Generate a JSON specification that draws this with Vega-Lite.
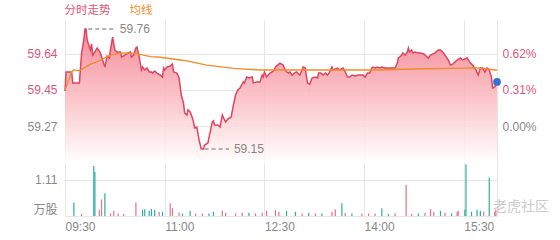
{
  "$schema": "https://vega.github.io/schema/vega-lite/v6.json",
  "width": 432,
  "height": 196,
  "autosize": {"type": "none"},
  "padding": {"left": 65, "top": 20, "right": 63, "bottom": 24},
  "background": "#ffffff",
  "config": {
    "font": "Liberation Sans, Noto Sans CJK SC",
    "view": {"stroke": null},
    "axis": {"ticks": false, "labelFontSize": 12, "gridColor": "#e6e6e6", "domainColor": "#e6e6e6"}
  },
  "datasets": {
    "price": [
      {"time": "2024-01-02T09:30", "price": 59.449}, {"time": "2024-01-02T09:31", "price": 59.546},
      {"time": "2024-01-02T09:36", "price": 59.546}, {"time": "2024-01-02T09:37", "price": 59.49},
      {"time": "2024-01-02T09:43", "price": 59.49}, {"time": "2024-01-02T09:45", "price": 59.643},
      {"time": "2024-01-02T09:47", "price": 59.709}, {"time": "2024-01-02T09:48", "price": 59.765},
      {"time": "2024-01-02T09:49", "price": 59.765}, {"time": "2024-01-02T09:50", "price": 59.709},
      {"time": "2024-01-02T09:53", "price": 59.658}, {"time": "2024-01-02T09:54", "price": 59.688},
      {"time": "2024-01-02T09:55", "price": 59.632}, {"time": "2024-01-02T09:57", "price": 59.648},
      {"time": "2024-01-02T09:59", "price": 59.668}, {"time": "2024-01-02T10:01", "price": 59.653},
      {"time": "2024-01-02T10:02", "price": 59.643}, {"time": "2024-01-02T10:04", "price": 59.607},
      {"time": "2024-01-02T10:06", "price": 59.571}, {"time": "2024-01-02T10:08", "price": 59.627},
      {"time": "2024-01-02T10:10", "price": 59.617}, {"time": "2024-01-02T10:11", "price": 59.658},
      {"time": "2024-01-02T10:13", "price": 59.724}, {"time": "2024-01-02T10:15", "price": 59.658},
      {"time": "2024-01-02T10:17", "price": 59.648}, {"time": "2024-01-02T10:20", "price": 59.648},
      {"time": "2024-01-02T10:21", "price": 59.622}, {"time": "2024-01-02T10:24", "price": 59.632},
      {"time": "2024-01-02T10:27", "price": 59.643}, {"time": "2024-01-02T10:29", "price": 59.648},
      {"time": "2024-01-02T10:30", "price": 59.622}, {"time": "2024-01-02T10:32", "price": 59.632},
      {"time": "2024-01-02T10:34", "price": 59.668}, {"time": "2024-01-02T10:35", "price": 59.673},
      {"time": "2024-01-02T10:37", "price": 59.622}, {"time": "2024-01-02T10:39", "price": 59.556},
      {"time": "2024-01-02T10:40", "price": 59.571}, {"time": "2024-01-02T10:42", "price": 59.556},
      {"time": "2024-01-02T10:44", "price": 59.566}, {"time": "2024-01-02T10:46", "price": 59.546},
      {"time": "2024-01-02T10:48", "price": 59.546}, {"time": "2024-01-02T10:49", "price": 59.54},
      {"time": "2024-01-02T10:51", "price": 59.551}, {"time": "2024-01-02T10:53", "price": 59.54},
      {"time": "2024-01-02T10:56", "price": 59.53}, {"time": "2024-01-02T10:58", "price": 59.52},
      {"time": "2024-01-02T10:59", "price": 59.566}, {"time": "2024-01-02T11:00", "price": 59.556},
      {"time": "2024-01-02T11:02", "price": 59.571}, {"time": "2024-01-02T11:05", "price": 59.576},
      {"time": "2024-01-02T11:07", "price": 59.586}, {"time": "2024-01-02T11:08", "price": 59.546},
      {"time": "2024-01-02T11:11", "price": 59.54}, {"time": "2024-01-02T11:13", "price": 59.515},
      {"time": "2024-01-02T11:15", "price": 59.428}, {"time": "2024-01-02T11:17", "price": 59.387},
      {"time": "2024-01-02T11:18", "price": 59.336}, {"time": "2024-01-02T11:20", "price": 59.326},
      {"time": "2024-01-02T11:21", "price": 59.352}, {"time": "2024-01-02T11:23", "price": 59.342},
      {"time": "2024-01-02T11:25", "price": 59.311}, {"time": "2024-01-02T11:26", "price": 59.291},
      {"time": "2024-01-02T11:27", "price": 59.26}, {"time": "2024-01-02T11:29", "price": 59.265},
      {"time": "2024-01-02T11:31", "price": 59.199}, {"time": "2024-01-02T11:33", "price": 59.153},
      {"time": "2024-01-02T11:35", "price": 59.153}, {"time": "2024-01-02T11:36", "price": 59.173},
      {"time": "2024-01-02T11:39", "price": 59.183}, {"time": "2024-01-02T11:41", "price": 59.239},
      {"time": "2024-01-02T11:43", "price": 59.291}, {"time": "2024-01-02T11:44", "price": 59.296},
      {"time": "2024-01-02T11:45", "price": 59.275}, {"time": "2024-01-02T11:48", "price": 59.275},
      {"time": "2024-01-02T11:50", "price": 59.265}, {"time": "2024-01-02T11:52", "price": 59.326},
      {"time": "2024-01-02T11:54", "price": 59.301}, {"time": "2024-01-02T11:55", "price": 59.291},
      {"time": "2024-01-02T11:57", "price": 59.306}, {"time": "2024-01-02T12:00", "price": 59.316},
      {"time": "2024-01-02T12:02", "price": 59.377}, {"time": "2024-01-02T12:03", "price": 59.403},
      {"time": "2024-01-02T12:04", "price": 59.428}, {"time": "2024-01-02T12:06", "price": 59.454},
      {"time": "2024-01-02T12:08", "price": 59.464}, {"time": "2024-01-02T12:11", "price": 59.495},
      {"time": "2024-01-02T12:12", "price": 59.49}, {"time": "2024-01-02T12:14", "price": 59.52},
      {"time": "2024-01-02T12:16", "price": 59.515}, {"time": "2024-01-02T12:19", "price": 59.52},
      {"time": "2024-01-02T12:20", "price": 59.49}, {"time": "2024-01-02T12:23", "price": 59.495},
      {"time": "2024-01-02T12:26", "price": 59.495}, {"time": "2024-01-02T12:28", "price": 59.53},
      {"time": "2024-01-02T12:29", "price": 59.52}, {"time": "2024-01-02T12:30", "price": 59.546},
      {"time": "2024-01-02T12:32", "price": 59.52}, {"time": "2024-01-02T12:35", "price": 59.54},
      {"time": "2024-01-02T12:37", "price": 59.546}, {"time": "2024-01-02T12:39", "price": 59.556},
      {"time": "2024-01-02T12:40", "price": 59.571}, {"time": "2024-01-02T12:42", "price": 59.581},
      {"time": "2024-01-02T12:44", "price": 59.591}, {"time": "2024-01-02T12:47", "price": 59.581},
      {"time": "2024-01-02T12:48", "price": 59.566}, {"time": "2024-01-02T12:50", "price": 59.546},
      {"time": "2024-01-02T12:52", "price": 59.54}, {"time": "2024-01-02T12:53", "price": 59.546},
      {"time": "2024-01-02T12:55", "price": 59.53}, {"time": "2024-01-02T12:57", "price": 59.54},
      {"time": "2024-01-02T12:59", "price": 59.546}, {"time": "2024-01-02T13:00", "price": 59.54},
      {"time": "2024-01-02T13:02", "price": 59.53}, {"time": "2024-01-02T13:04", "price": 59.556},
      {"time": "2024-01-02T13:05", "price": 59.571}, {"time": "2024-01-02T13:07", "price": 59.566},
      {"time": "2024-01-02T13:08", "price": 59.52}, {"time": "2024-01-02T13:09", "price": 59.49},
      {"time": "2024-01-02T13:11", "price": 59.484}, {"time": "2024-01-02T13:13", "price": 59.515},
      {"time": "2024-01-02T13:16", "price": 59.52}, {"time": "2024-01-02T13:18", "price": 59.515},
      {"time": "2024-01-02T13:19", "price": 59.54}, {"time": "2024-01-02T13:21", "price": 59.54},
      {"time": "2024-01-02T13:23", "price": 59.53}, {"time": "2024-01-02T13:25", "price": 59.54},
      {"time": "2024-01-02T13:27", "price": 59.53}, {"time": "2024-01-02T13:29", "price": 59.546},
      {"time": "2024-01-02T13:31", "price": 59.571}, {"time": "2024-01-02T13:32", "price": 59.556},
      {"time": "2024-01-02T13:36", "price": 59.566}, {"time": "2024-01-02T13:38", "price": 59.556},
      {"time": "2024-01-02T13:41", "price": 59.566}, {"time": "2024-01-02T13:43", "price": 59.546},
      {"time": "2024-01-02T13:45", "price": 59.52}, {"time": "2024-01-02T13:47", "price": 59.52},
      {"time": "2024-01-02T13:49", "price": 59.53}, {"time": "2024-01-02T13:52", "price": 59.525},
      {"time": "2024-01-02T13:55", "price": 59.53}, {"time": "2024-01-02T13:57", "price": 59.53},
      {"time": "2024-01-02T13:59", "price": 59.53}, {"time": "2024-01-02T14:01", "price": 59.52},
      {"time": "2024-01-02T14:03", "price": 59.54}, {"time": "2024-01-02T14:05", "price": 59.54},
      {"time": "2024-01-02T14:07", "price": 59.566}, {"time": "2024-01-02T14:08", "price": 59.571},
      {"time": "2024-01-02T14:10", "price": 59.566}, {"time": "2024-01-02T14:12", "price": 59.571},
      {"time": "2024-01-02T14:14", "price": 59.566}, {"time": "2024-01-02T14:16", "price": 59.571},
      {"time": "2024-01-02T14:19", "price": 59.566}, {"time": "2024-01-02T14:22", "price": 59.566},
      {"time": "2024-01-02T14:25", "price": 59.566}, {"time": "2024-01-02T14:28", "price": 59.566},
      {"time": "2024-01-02T14:30", "price": 59.591}, {"time": "2024-01-02T14:31", "price": 59.617},
      {"time": "2024-01-02T14:32", "price": 59.622}, {"time": "2024-01-02T14:34", "price": 59.632},
      {"time": "2024-01-02T14:35", "price": 59.643}, {"time": "2024-01-02T14:37", "price": 59.632},
      {"time": "2024-01-02T14:39", "price": 59.648}, {"time": "2024-01-02T14:40", "price": 59.668},
      {"time": "2024-01-02T14:41", "price": 59.648}, {"time": "2024-01-02T14:43", "price": 59.658},
      {"time": "2024-01-02T14:44", "price": 59.643}, {"time": "2024-01-02T14:46", "price": 59.648},
      {"time": "2024-01-02T14:49", "price": 59.643}, {"time": "2024-01-02T14:51", "price": 59.643},
      {"time": "2024-01-02T14:54", "price": 59.638}, {"time": "2024-01-02T14:58", "price": 59.617},
      {"time": "2024-01-02T15:00", "price": 59.632}, {"time": "2024-01-02T15:04", "price": 59.643},
      {"time": "2024-01-02T15:07", "price": 59.658}, {"time": "2024-01-02T15:09", "price": 59.658},
      {"time": "2024-01-02T15:11", "price": 59.648}, {"time": "2024-01-02T15:13", "price": 59.632},
      {"time": "2024-01-02T15:16", "price": 59.607}, {"time": "2024-01-02T15:18", "price": 59.581},
      {"time": "2024-01-02T15:20", "price": 59.586}, {"time": "2024-01-02T15:24", "price": 59.607},
      {"time": "2024-01-02T15:27", "price": 59.617}, {"time": "2024-01-02T15:29", "price": 59.607},
      {"time": "2024-01-02T15:33", "price": 59.617}, {"time": "2024-01-02T15:36", "price": 59.591},
      {"time": "2024-01-02T15:38", "price": 59.581}, {"time": "2024-01-02T15:41", "price": 59.556},
      {"time": "2024-01-02T15:43", "price": 59.53}, {"time": "2024-01-02T15:45", "price": 59.566},
      {"time": "2024-01-02T15:47", "price": 59.566}, {"time": "2024-01-02T15:49", "price": 59.546},
      {"time": "2024-01-02T15:51", "price": 59.566}, {"time": "2024-01-02T15:53", "price": 59.556},
      {"time": "2024-01-02T15:55", "price": 59.52}, {"time": "2024-01-02T15:56", "price": 59.464},
      {"time": "2024-01-02T15:58", "price": 59.469}, {"time": "2024-01-02T16:00", "price": 59.495}
    ],
    "avg": [
      {"time": "2024-01-02T09:30", "price": 59.454}, {"time": "2024-01-02T09:36", "price": 59.546},
      {"time": "2024-01-02T09:38", "price": 59.556}, {"time": "2024-01-02T09:43", "price": 59.552},
      {"time": "2024-01-02T09:53", "price": 59.586}, {"time": "2024-01-02T09:59", "price": 59.598},
      {"time": "2024-01-02T10:11", "price": 59.632}, {"time": "2024-01-02T10:20", "price": 59.643},
      {"time": "2024-01-02T10:35", "price": 59.641}, {"time": "2024-01-02T10:38", "price": 59.636},
      {"time": "2024-01-02T10:47", "price": 59.624}, {"time": "2024-01-02T10:56", "price": 59.621},
      {"time": "2024-01-02T11:14", "price": 59.607}, {"time": "2024-01-02T11:20", "price": 59.602},
      {"time": "2024-01-02T11:38", "price": 59.581}, {"time": "2024-01-02T12:02", "price": 59.564},
      {"time": "2024-01-02T12:26", "price": 59.556}, {"time": "2024-01-02T13:02", "price": 59.556},
      {"time": "2024-01-02T14:14", "price": 59.556}, {"time": "2024-01-02T14:44", "price": 59.561},
      {"time": "2024-01-02T15:45", "price": 59.567}, {"time": "2024-01-02T15:58", "price": 59.556},
      {"time": "2024-01-02T16:00", "price": 59.556}
    ],
    "marks": [
      {"time": "2024-01-02T09:51", "time_end": "2024-01-02T10:15", "price": 59.765, "label": "59.76"},
      {"time": "2024-01-02T11:36", "time_end": "2024-01-02T11:58", "price": 59.153, "label": "59.15"}
    ],
    "last": [{"time": "2024-01-02T16:00", "price": 59.495}],
    "wm": [{"time": "2024-01-02T16:00", "vol": 0.28, "label": "老虎社区"}],
    "vol": [
      {"time": "2024-01-02T09:38", "vol": 0.42, "dir": "down"}, {"time": "2024-01-02T09:45", "vol": 0.06, "dir": "up"},
      {"time": "2024-01-02T09:56", "vol": 1.54, "dir": "down"}, {"time": "2024-01-02T09:57", "vol": 1.36, "dir": "down"},
      {"time": "2024-01-02T10:01", "vol": 0.19, "dir": "up"}, {"time": "2024-01-02T10:03", "vol": 0.51, "dir": "up"},
      {"time": "2024-01-02T10:06", "vol": 0.7, "dir": "down"}, {"time": "2024-01-02T10:11", "vol": 0.08, "dir": "up"},
      {"time": "2024-01-02T10:14", "vol": 0.16, "dir": "up"}, {"time": "2024-01-02T10:18", "vol": 0.08, "dir": "up"},
      {"time": "2024-01-02T10:23", "vol": 0.06, "dir": "up"}, {"time": "2024-01-02T10:34", "vol": 0.42, "dir": "up"},
      {"time": "2024-01-02T10:40", "vol": 0.19, "dir": "down"}, {"time": "2024-01-02T10:42", "vol": 0.21, "dir": "down"},
      {"time": "2024-01-02T10:46", "vol": 0.16, "dir": "down"}, {"time": "2024-01-02T10:48", "vol": 0.22, "dir": "down"},
      {"time": "2024-01-02T10:51", "vol": 0.19, "dir": "down"}, {"time": "2024-01-02T10:55", "vol": 0.13, "dir": "up"},
      {"time": "2024-01-02T10:58", "vol": 0.13, "dir": "down"}, {"time": "2024-01-02T11:05", "vol": 0.39, "dir": "up"},
      {"time": "2024-01-02T11:07", "vol": 0.24, "dir": "up"}, {"time": "2024-01-02T11:13", "vol": 0.11, "dir": "up"},
      {"time": "2024-01-02T11:16", "vol": 0.08, "dir": "down"}, {"time": "2024-01-02T11:23", "vol": 0.16, "dir": "down"},
      {"time": "2024-01-02T11:28", "vol": 0.08, "dir": "up"}, {"time": "2024-01-02T11:34", "vol": 0.08, "dir": "up"},
      {"time": "2024-01-02T11:40", "vol": 0.08, "dir": "down"}, {"time": "2024-01-02T11:44", "vol": 0.13, "dir": "down"},
      {"time": "2024-01-02T11:52", "vol": 0.16, "dir": "up"}, {"time": "2024-01-02T11:55", "vol": 0.1, "dir": "up"},
      {"time": "2024-01-02T12:04", "vol": 0.08, "dir": "up"}, {"time": "2024-01-02T12:10", "vol": 0.1, "dir": "up"},
      {"time": "2024-01-02T12:16", "vol": 0.1, "dir": "down"}, {"time": "2024-01-02T12:22", "vol": 0.08, "dir": "up"},
      {"time": "2024-01-02T12:28", "vol": 0.1, "dir": "up"}, {"time": "2024-01-02T12:32", "vol": 0.16, "dir": "up"},
      {"time": "2024-01-02T12:40", "vol": 0.19, "dir": "up"}, {"time": "2024-01-02T12:43", "vol": 0.13, "dir": "up"},
      {"time": "2024-01-02T12:50", "vol": 0.16, "dir": "down"}, {"time": "2024-01-02T12:58", "vol": 0.13, "dir": "down"},
      {"time": "2024-01-02T13:04", "vol": 0.08, "dir": "up"}, {"time": "2024-01-02T13:10", "vol": 0.1, "dir": "down"},
      {"time": "2024-01-02T13:16", "vol": 0.08, "dir": "up"}, {"time": "2024-01-02T13:22", "vol": 0.08, "dir": "down"},
      {"time": "2024-01-02T13:31", "vol": 0.13, "dir": "up"}, {"time": "2024-01-02T13:34", "vol": 0.21, "dir": "up"},
      {"time": "2024-01-02T13:40", "vol": 0.39, "dir": "down"}, {"time": "2024-01-02T13:43", "vol": 0.1, "dir": "up"},
      {"time": "2024-01-02T13:49", "vol": 0.08, "dir": "down"}, {"time": "2024-01-02T13:58", "vol": 0.08, "dir": "up"},
      {"time": "2024-01-02T14:04", "vol": 0.08, "dir": "up"}, {"time": "2024-01-02T14:10", "vol": 0.08, "dir": "up"},
      {"time": "2024-01-02T14:16", "vol": 0.24, "dir": "down"}, {"time": "2024-01-02T14:22", "vol": 0.06, "dir": "down"},
      {"time": "2024-01-02T14:28", "vol": 0.08, "dir": "up"}, {"time": "2024-01-02T14:38", "vol": 0.96, "dir": "up"},
      {"time": "2024-01-02T14:43", "vol": 0.06, "dir": "up"}, {"time": "2024-01-02T14:49", "vol": 0.08, "dir": "down"},
      {"time": "2024-01-02T14:55", "vol": 0.1, "dir": "up"}, {"time": "2024-01-02T15:00", "vol": 0.21, "dir": "up"},
      {"time": "2024-01-02T15:03", "vol": 0.13, "dir": "up"}, {"time": "2024-01-02T15:09", "vol": 0.16, "dir": "down"},
      {"time": "2024-01-02T15:13", "vol": 0.1, "dir": "up"}, {"time": "2024-01-02T15:19", "vol": 0.08, "dir": "down"},
      {"time": "2024-01-02T15:24", "vol": 0.13, "dir": "up"}, {"time": "2024-01-02T15:25", "vol": 0.16, "dir": "up"},
      {"time": "2024-01-02T15:31", "vol": 0.19, "dir": "down"}, {"time": "2024-01-02T15:32", "vol": 1.59, "dir": "down"},
      {"time": "2024-01-02T15:37", "vol": 0.13, "dir": "down"}, {"time": "2024-01-02T15:42", "vol": 0.19, "dir": "down"},
      {"time": "2024-01-02T15:45", "vol": 0.16, "dir": "down"}, {"time": "2024-01-02T15:48", "vol": 0.13, "dir": "up"},
      {"time": "2024-01-02T15:53", "vol": 1.19, "dir": "down"}, {"time": "2024-01-02T15:58", "vol": 0.13, "dir": "up"},
      {"time": "2024-01-02T15:59", "vol": 0.19, "dir": "up"}
    ]
  },
  "encoding": {
    "x": {
      "field": "time", "type": "temporal", "title": null,
      "scale": {"domain": [
        {"year": 2024, "month": 1, "date": 2, "hours": 9, "minutes": 30},
        {"year": 2024, "month": 1, "date": 2, "hours": 16, "minutes": 0}
      ]},
      "axis": {
        "values": [
          {"year": 2024, "month": 1, "date": 2, "hours": 9, "minutes": 30},
          {"year": 2024, "month": 1, "date": 2, "hours": 11, "minutes": 0},
          {"year": 2024, "month": 1, "date": 2, "hours": 12, "minutes": 30},
          {"year": 2024, "month": 1, "date": 2, "hours": 14, "minutes": 0},
          {"year": 2024, "month": 1, "date": 2, "hours": 15, "minutes": 30}
        ],
        "format": "%H:%M", "labelAlign": "left", "labelFlush": false, "labelColor": "#888888",
        "labelPadding": 5, "grid": true, "domain": true, "ticks": false, "title": null
      }
    }
  },
  "layer": [
    {
      "layer": [
        {
          "data": {"name": "price"},
          "mark": {"type": "area", "opacity": 0.88, "color": {"gradient": "linear", "x1": 0, "y1": 0, "x2": 0, "y2": 1, "stops": [
            {"offset": 0, "color": "#f2788a"},
            {"offset": 0.23, "color": "#f699a4"},
            {"offset": 0.53, "color": "#fbbfc5"},
            {"offset": 0.72, "color": "#fdd9dc"},
            {"offset": 0.9, "color": "#fff1f2"},
            {"offset": 1, "color": "#ffffff"}
          ]}},
          "encoding": {
            "y": {"field": "price", "type": "quantitative", "title": null,
              "scale": {"domain": [58.811, 59.811], "nice": false, "zero": false},
              "axis": {"orient": "left", "values": [59.27, 59.454, 59.638], "format": ".2f", "title": null,
                "labelColor": {"condition": {"test": "datum.value > 59.3", "value": "#d9587a"}, "value": "#888888"},
                "grid": true, "domain": true, "ticks": false, "labelPadding": 8}},
            "y2": {"datum": 59.08}
          }
        },
        {
          "data": {"name": "price"},
          "mark": {"type": "line", "strokeWidth": 1.5},
          "encoding": {
            "y": {"field": "price", "type": "quantitative", "title": null},
            "color": {"datum": "分时走势", "scale": {"domain": ["分时走势", "均线"], "range": ["#e0445f", "#f08c28"]},
              "legend": {"orient": "top", "direction": "horizontal", "title": null, "symbolSize": 0, "symbolStrokeWidth": 0,
                "symbolOpacity": 0, "labelOffset": -12, "columnPadding": 18, "padding": 0, "offset": 3,
                "labelFont": "Noto Sans CJK SC", "labelFontSize": 11.5,
                "encode": {"labels": {"update": {"fill": {"signal": "datum.value === '均线' ? '#ef8f2e' : '#de5470'"}}}}}}
          }
        },
        {
          "data": {"name": "avg"},
          "mark": {"type": "line", "strokeWidth": 1.3},
          "encoding": {
            "y": {"field": "price", "type": "quantitative", "title": null},
            "color": {"datum": "均线"}
          }
        },
        {
          "data": {"name": "marks"},
          "mark": {"type": "rule", "strokeDash": [4, 3], "color": "#999999", "strokeWidth": 1.5},
          "encoding": {
            "x2": {"field": "time_end"},
            "y": {"field": "price", "type": "quantitative", "title": null}
          }
        },
        {
          "data": {"name": "marks"},
          "mark": {"type": "text", "align": "left", "baseline": "middle", "dx": 5, "fontSize": 12, "color": "#888888"},
          "encoding": {
            "x": {"field": "time_end", "type": "temporal", "title": null},
            "y": {"field": "price", "type": "quantitative", "title": null},
            "text": {"field": "label"}
          }
        },
        {
          "data": {"name": "last"},
          "mark": {"type": "circle", "size": 60, "color": "#3b6fd6", "opacity": 1},
          "encoding": {"y": {"field": "price", "type": "quantitative", "title": null}}
        }
      ]
    },
    {
      "data": {"name": "last"},
      "mark": {"type": "point", "opacity": 0},
      "encoding": {
        "y": {"field": "price", "type": "quantitative", "title": null,
          "scale": {"domain": [58.811, 59.811], "nice": false, "zero": false},
          "axis": {"orient": "right", "values": [59.27, 59.454, 59.638], "title": null,
            "labelExpr": "format((datum.value - 59.27) / 59.27 * 100, '.2f') + '%'",
            "labelColor": {"condition": {"test": "datum.value > 59.3", "value": "#d9587a"}, "value": "#888888"},
            "grid": false, "domain": true, "ticks": false, "labelPadding": 5}}
      }
    },
    {
      "layer": [
        {
          "data": {"name": "vol"},
          "mark": {"type": "rule", "strokeWidth": 1.2},
          "encoding": {
            "y": {"field": "vol", "type": "quantitative", "title": null,
              "scale": {"domain": [0, 6.0433], "nice": false},
              "axis": {"orient": "left", "values": [0.19, 1.11], "title": null,
                "labelExpr": "datum.value > 1 ? '1.11' : '万股'", "labelColor": "#888888",
                "grid": true, "gridOpacity": {"condition": {"test": "datum.value < 1", "value": 0}, "value": 1},
                "domain": false, "ticks": false, "labelPadding": 8}},
            "y2": {"datum": 0},
            "color": {"field": "dir", "type": "nominal", "scale": {"domain": ["up", "down"], "range": ["#e2738b", "#2aaea6"]}, "legend": null}
          }
        },
        {
          "data": {"name": "wm"},
          "mark": {"type": "text", "align": "left", "baseline": "middle", "dx": -4, "fontSize": 14, "color": "#cccccc", "font": "Noto Sans CJK SC"},
          "encoding": {
            "y": {"field": "vol", "type": "quantitative", "title": null},
            "text": {"field": "label"}
          }
        }
      ]
    }
  ],
  "resolve": {"scale": {"y": "independent", "color": "independent"}}
}
